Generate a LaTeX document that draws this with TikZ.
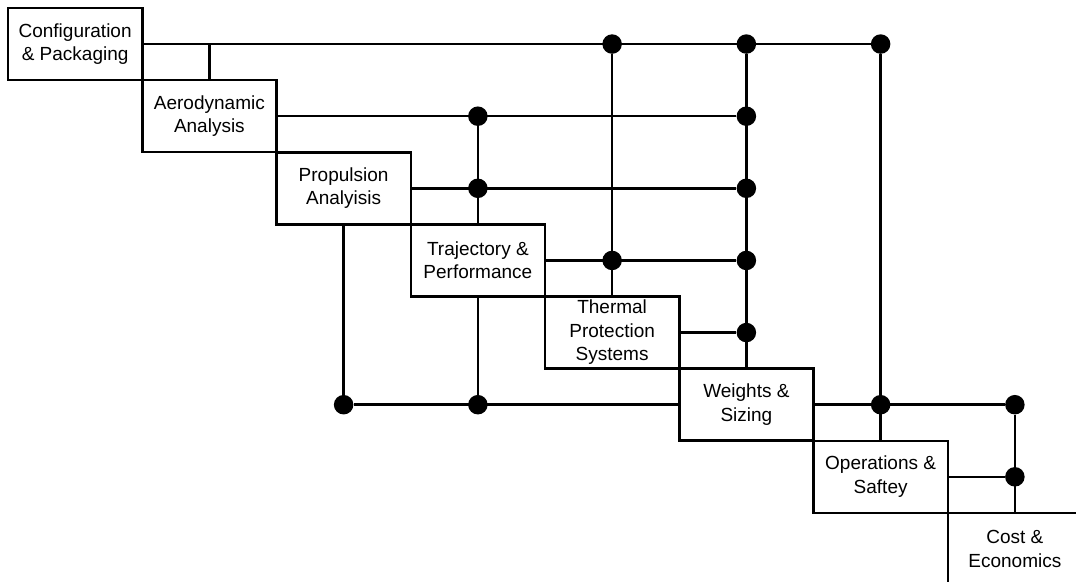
\documentclass[tikz,border=0pt]{standalone}
\usepackage{fontspec}
\setmainfont{Liberation Sans}
\pgfdeclarelayer{bottom}
\pgfdeclarelayer{background}
\pgfsetlayers{bottom,background,main}
\begin{document}
\begin{tikzpicture}[x=1pt,y=-1pt,
  box/.style={draw=black,line width=2.5pt,fill=white,minimum width=134.25pt,minimum height=72.1pt,
    inner sep=0pt,align=center,font=\fontsize{19}{23.5}\selectfont},
  dot/.style={circle,fill=black,draw=none,minimum size=19.5pt,inner sep=0pt},
  link/.style={draw=black,line width=2.5pt}]
\begin{pgfonlayer}{bottom}
\fill[white] (0,0) rectangle (1076,581);
\end{pgfonlayer}
\clip (0,0) rectangle (1076,581);
% boxes
\node[box] (b1) at ({8+134.25*0.5},{8+72.125*0.5}) {Configuration\\\& Packaging};
\node[box] (b2) at ({8+134.25*1.5},{8+72.125*1.5}) {Aerodynamic\\Analysis};
\node[box] (b3) at ({8+134.25*2.5},{8+72.125*2.5}) {Propulsion\\Analyisis};
\node[box] (b4) at ({8+134.25*3.5},{8+72.125*3.5}) {Trajectory \&\\Performance};
\node[box] (b5) at ({8+134.25*4.5},{8+72.125*4.5}) {Thermal\\Protection\\Systems};
\node[box] (b6) at ({8+134.25*5.5},{8+72.125*5.5}) {Weights \&\\Sizing};
\node[box] (b7) at ({8+134.25*6.5},{8+72.125*6.5}) {Operations \&\\Saftey};
\node[box] (b8) at ({8+134.25*7.5},{8+72.125*7.5}) {Cost \&\\Economics};
% dots
\foreach \r/\c in {1/5,1/6,1/7,2/4,2/6,3/4,3/6,4/5,4/6,5/6,6/3,6/4,6/7,6/8,7/8}
  \node[dot] (d\r\c) at ({8+134.25*(\c-0.5)},{8+72.125*(\r-0.5)}) {};
\begin{pgfonlayer}{background}
  % row connectors
  \draw[link] (b1) -- (d17);
  \draw[link] (b2) -- (d26);
  \draw[link] (b3) -- (d36);
  \draw[link] (b4) -- (d46);
  \draw[link] (b5) -- (d56);
  \draw[link] (d63) -- (d68);
  \draw[link] (b7) -- (d78);
  % column connectors
  \draw[link] (b2.north) -- (b2.north |- b1.east);
  \draw[link] (b3) -- (d63);
  \draw[link] (d24) -- (d64);
  \draw[link] (d15) -- (b5);
  \draw[link] (d16) -- (b6);
  \draw[link] (d17) -- (b7);
  \draw[link] (d68) -- (b8);
\end{pgfonlayer}
\end{tikzpicture}
\end{document}
